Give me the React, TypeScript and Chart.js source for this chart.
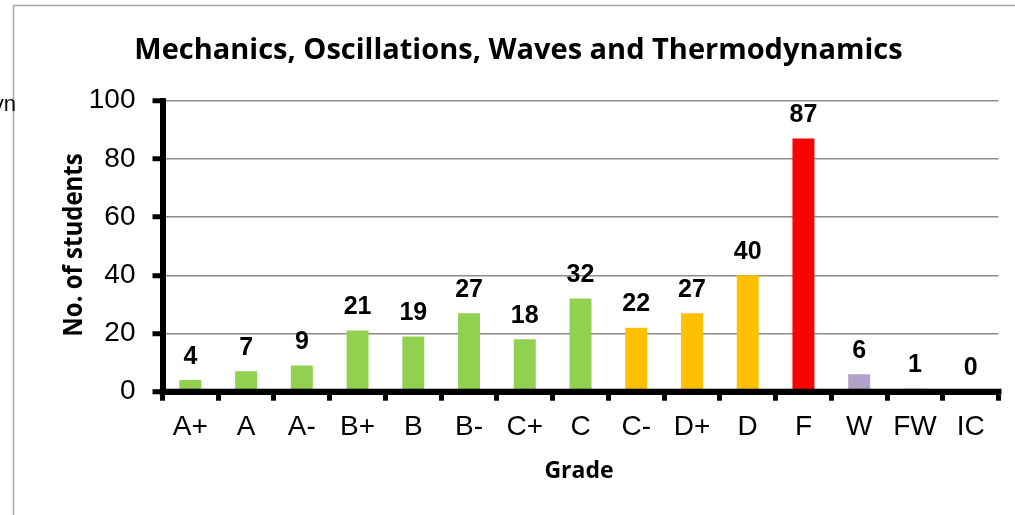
import React, { useEffect, useRef } from "react";
import { Chart, registerables } from "chart.js";

Chart.register(...registerables);

const TITLE = "Mechanics, Oscillations, Waves and Thermodynamics";
const X_TITLE = "Grade";
const Y_TITLE = "No. of students";
const CLIPPED_TEXT = "yn";

const grades = ["A+", "A", "A-", "B+", "B", "B-", "C+", "C", "C-", "D+", "D", "F", "W", "FW", "IC"];
const students = [4, 7, 9, 21, 19, 27, 18, 32, 22, 27, 40, 87, 6, 1, 0];

const GREEN = "#92D050";
const ORANGE = "#FFC000";
const RED = "#FF0000";
const PURPLE = "#B3A2C7";
const barColors = [
  GREEN, GREEN, GREEN, GREEN, GREEN, GREEN, GREEN, GREEN,
  ORANGE, ORANGE, ORANGE,
  RED,
  PURPLE, PURPLE, PURPLE,
];

const Y_MIN = 0;
const Y_MAX = 100;
const Y_STEP = 20;

const W = 1015;
const H = 515;

const TITLE_FONT = 'bold 29px "Open Sans", sans-serif';
const X_TITLE_FONT = 'bold 23px "Open Sans", sans-serif';
const Y_TITLE_FONT = 'bold 24px "Open Sans", sans-serif';
const TICK_FONT_FAMILY = '"Liberation Sans", Arial, sans-serif';
const LABEL_FONT = 'bold 25px "Liberation Sans", Arial, sans-serif';

const decorPlugin = {
  id: "decor",
  beforeDraw(chart: any) {
    const ctx = chart.ctx;
    ctx.save();
    ctx.fillStyle = "#ffffff";
    ctx.fillRect(0, 0, W, H);
    // outer frame (partially visible)
    ctx.strokeStyle = "#a6a6a6";
    ctx.lineWidth = 1.5;
    ctx.beginPath();
    ctx.moveTo(13.5, H + 5);
    ctx.lineTo(13.5, 5.5);
    ctx.lineTo(W + 5, 5.5);
    ctx.stroke();
    // clipped text fragment at the left edge
    ctx.fillStyle = "#000";
    ctx.font = '22px "Liberation Sans", Arial, sans-serif';
    ctx.textAlign = "right";
    ctx.textBaseline = "alphabetic";
    ctx.fillText(CLIPPED_TEXT, 16, 111);
    // title
    ctx.font = TITLE_FONT;
    ctx.textAlign = "center";
    ctx.fillText(TITLE, 518.5, 59);
    // x title
    ctx.font = X_TITLE_FONT;
    ctx.fillText(X_TITLE, 579, 478);
    // y title
    ctx.font = Y_TITLE_FONT;
    ctx.translate(82, 245);
    ctx.scale(1.15, 1);
    ctx.rotate(-Math.PI / 2);
    ctx.fillText(Y_TITLE, 0, 0);
    ctx.restore();
  },
  afterDatasetsDraw(chart: any) {
    const ctx = chart.ctx;
    const area = chart.chartArea;
    const yScale = chart.scales.y;
    const base = yScale.getPixelForValue(0);
    ctx.save();
    // redraw x axis line over bar bottoms
    ctx.fillStyle = "#000";
    ctx.fillRect(area.left - 3, base - 3, area.right - area.left + 6, 6);
    // data labels
    ctx.font = LABEL_FONT;
    ctx.textAlign = "center";
    ctx.textBaseline = "alphabetic";
    const meta = chart.getDatasetMeta(0);
    meta.data.forEach((el: any, i: number) => {
      ctx.fillText(String(students[i]), el.x, el.y - 16.5);
    });
    ctx.restore();
  },
};

export default function App() {
  const ref = useRef<HTMLCanvasElement | null>(null);

  useEffect(() => {
    if (!ref.current) return;
    const chart = new Chart(ref.current, {
      type: "bar",
      data: {
        labels: grades,
        datasets: [
          {
            data: students,
            backgroundColor: barColors,
            borderWidth: 0,
            barPercentage: 0.394,
            categoryPercentage: 1.0,
          },
        ],
      },
      options: {
        responsive: false,
        animation: false,
        devicePixelRatio: 1,
        layout: { padding: { top: 100.7, right: 16.5, bottom: 0, left: 0 } },
        plugins: {
          legend: { display: false },
          title: { display: false },
          tooltip: { enabled: false },
        },
        scales: {
          x: {
            type: "category",
            offset: true,
            afterFit: (s: any) => {
              s.height = 123.3;
            },
            grid: {
              offset: true,
              drawOnChartArea: false,
              drawTicks: true,
              tickLength: 9,
              tickColor: "#000",
              tickWidth: 5,
            },
            border: { display: true, color: "#000", width: 6 },
            ticks: {
              color: "#000",
              font: { family: TICK_FONT_FAMILY, size: 28 },
              padding: 10,
              maxRotation: 0,
              autoSkip: false,
            },
          },
          y: {
            min: Y_MIN,
            max: Y_MAX,
            afterFit: (s: any) => {
              s.width = 162.5;
            },
            grid: {
              color: "#8c8c8c",
              lineWidth: 1.5,
              drawTicks: true,
              tickLength: 10,
              tickColor: "#000",
              tickWidth: 5,
            },
            border: { display: true, color: "#000", width: 6 },
            ticks: {
              stepSize: Y_STEP,
              color: "#000",
              font: { family: TICK_FONT_FAMILY, size: 28 },
              padding: 17,
            },
          },
        },
      },
      plugins: [decorPlugin],
    });
    return () => chart.destroy();
  }, []);

  return (
    <div style={{ position: "fixed", left: 0, top: 0, width: W, height: H, background: "#fff" }}>
      <canvas ref={ref} width={W} height={H} style={{ display: "block", width: W, height: H }} />
    </div>
  );
}
